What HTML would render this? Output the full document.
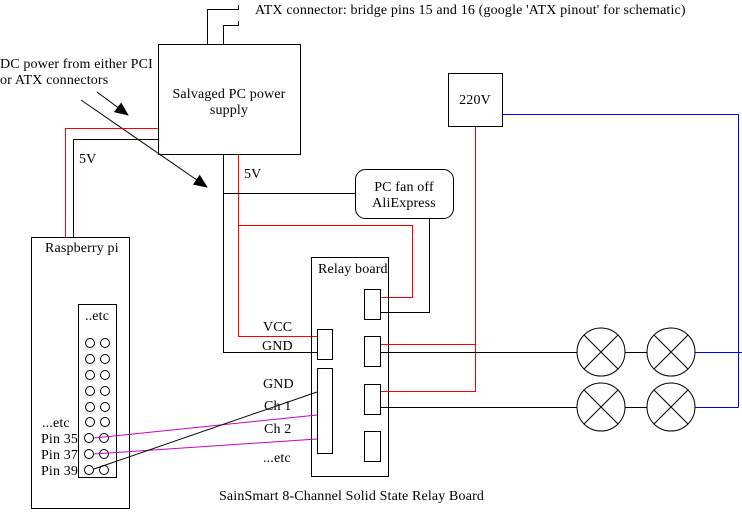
<!DOCTYPE html>
<html><head><meta charset="utf-8"><style>
html,body{margin:0;padding:0;background:#fff;}
svg{display:block;}
text{font-family:"Liberation Serif",serif;font-size:14px;fill:#000;letter-spacing:0.15px;}
</style></head><body>
<svg width="742" height="514" viewBox="0 0 742 514" xmlns="http://www.w3.org/2000/svg">
<defs><marker id="ah" markerWidth="14" markerHeight="12" refX="13" refY="6" orient="auto" markerUnits="userSpaceOnUse"><path d="M0,0 L14,6 L0,12 z" fill="#000"/></marker></defs>
<g fill="none" stroke="#000" stroke-width="1">
<polyline points="207.5,44 207.5,9.5 238.5,9.5"/><line x1="238.5" y1="5" x2="238.5" y2="10"/>
<polyline points="223.5,44 223.5,25.5 238.5,25.5"/><line x1="238.5" y1="21" x2="238.5" y2="26"/>
<rect x="158.5" y="44.5" width="142" height="110"/>
<line x1="97" y1="92" x2="128" y2="115" marker-end="url(#ah)"/>
<line x1="81" y1="100" x2="207" y2="187" marker-end="url(#ah)"/>
<polyline points="158,139.5 73.5,139.5 73.5,237"/>
<polyline points="158,128.5 65.5,128.5 65.5,237" stroke="#f00"/>
<rect x="31.5" y="237.5" width="98" height="271"/>
<rect x="78.5" y="304.5" width="38" height="173"/>
<polyline points="223.5,155 223.5,352.5 317,352.5"/>
<polyline points="238.5,155 238.5,336.5 317,336.5" stroke="#f00"/>
<line x1="223" y1="193.5" x2="355" y2="193.5"/>
<polyline points="238,225.5 412.5,225.5 412.5,297.5 381,297.5" stroke="#f00"/>
<rect x="355.5" y="169.5" width="98" height="49" rx="10"/>
<polyline points="429.5,219 429.5,312.5 381,312.5"/>
<rect x="311.5" y="257.5" width="77" height="219"/>
<rect x="317.5" y="329.5" width="15" height="30"/>
<rect x="317.5" y="368.5" width="15" height="85"/>
<rect x="364.5" y="289.5" width="16" height="30"/>
<rect x="364.5" y="336.5" width="16" height="30"/>
<rect x="364.5" y="384.5" width="16" height="30"/>
<rect x="364.5" y="431.5" width="16" height="30"/>
<rect x="448.5" y="73.5" width="54" height="53"/>
<polyline points="381,344.5 475.5,344.5" stroke="#f00"/>
<polyline points="381,391.5 475.5,391.5 475.5,127" stroke="#f00"/>
<line x1="381" y1="352.5" x2="577" y2="352.5"/>
<line x1="381" y1="407.5" x2="577" y2="407.5"/>
<line x1="625" y1="352.5" x2="647" y2="352.5"/>
<line x1="625" y1="407.5" x2="647" y2="407.5"/>
<g stroke="#00f"><line x1="502" y1="114.5" x2="738.5" y2="114.5"/><line x1="738.5" y1="114" x2="738.5" y2="407.5"/><line x1="695" y1="352.5" x2="742" y2="352.5"/><line x1="695" y1="407.5" x2="738.5" y2="407.5"/></g>
<g>
<circle cx="601" cy="352" r="24"/><line x1="584" y1="335" x2="618" y2="369"/><line x1="618" y1="335" x2="584" y2="369"/>
<circle cx="671" cy="352" r="24"/><line x1="654" y1="335" x2="688" y2="369"/><line x1="688" y1="335" x2="654" y2="369"/>
<circle cx="601" cy="407" r="24"/><line x1="584" y1="390" x2="618" y2="424"/><line x1="618" y1="390" x2="584" y2="424"/>
<circle cx="671" cy="407" r="24"/><line x1="654" y1="390" x2="688" y2="424"/><line x1="688" y1="390" x2="654" y2="424"/>
</g>
<g>
<circle cx="90" cy="343" r="4.5"/><circle cx="105" cy="343" r="4.5"/>
<circle cx="90" cy="359" r="4.5"/><circle cx="105" cy="359" r="4.5"/>
<circle cx="90" cy="375" r="4.5"/><circle cx="105" cy="375" r="4.5"/>
<circle cx="90" cy="391" r="4.5"/><circle cx="105" cy="391" r="4.5"/>
<circle cx="90" cy="407" r="4.5"/><circle cx="105" cy="407" r="4.5"/>
<circle cx="90" cy="422" r="4.5"/><circle cx="105" cy="422" r="4.5"/>
<circle cx="89" cy="438" r="4.5"/><circle cx="104" cy="438" r="4.5"/>
<circle cx="89" cy="454" r="4.5"/><circle cx="104" cy="454" r="4.5"/>
<circle cx="89" cy="470" r="4.5"/><circle cx="104" cy="470" r="4.5"/>
</g>
<line x1="94" y1="438" x2="317" y2="415" stroke="#c0c"/>
<line x1="94" y1="454" x2="317" y2="439" stroke="#c0c"/>
<line x1="94" y1="469" x2="317" y2="392"/>
</g>
<text x="255" y="14">ATX connector: bridge pins 15 and 16 (google 'ATX pinout' for schematic)</text>
<text x="0" y="68">DC power from either PCI</text>
<text x="0" y="84">or ATX connectors</text>
<text x="229" y="98" text-anchor="middle">Salvaged PC power</text>
<text x="229" y="114" text-anchor="middle">supply</text>
<text x="79" y="163">5V</text>
<text x="244" y="178">5V</text>
<text x="404" y="191" text-anchor="middle">PC fan off</text>
<text x="404" y="207" text-anchor="middle">AliExpress</text>
<text x="475" y="104" text-anchor="middle">220V</text>
<text x="45" y="252">Raspberry pi</text>
<text x="85" y="320">..etc</text>
<text x="42" y="427">...etc</text>
<text x="41" y="443">Pin 35</text>
<text x="41" y="459">Pin 37</text>
<text x="41" y="475">Pin 39</text>
<text x="318" y="273">Relay board</text>
<text x="263" y="331">VCC</text>
<text x="262" y="350">GND</text>
<text x="263" y="388">GND</text>
<text x="264" y="410">Ch 1</text>
<text x="264" y="433">Ch 2</text>
<text x="263" y="462">...etc</text>
<text x="219" y="500">SainSmart 8-Channel Solid State Relay Board</text>
</svg>
</body></html>
